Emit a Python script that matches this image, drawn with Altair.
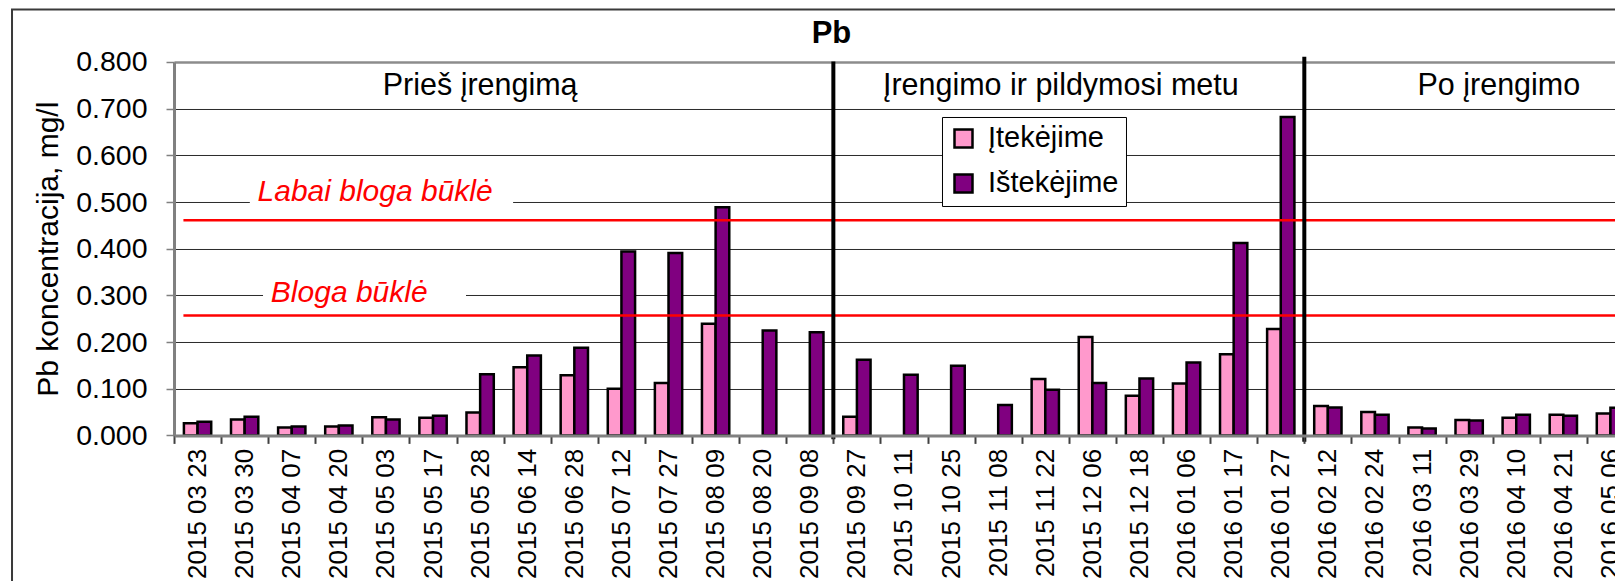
import altair as alt
import pandas as pd

# ---------------- data ----------------
dates = [
    "2015 03 23", "2015 03 30", "2015 04 07", "2015 04 20", "2015 05 03",
    "2015 05 17", "2015 05 28", "2015 06 14", "2015 06 28", "2015 07 12",
    "2015 07 27", "2015 08 09", "2015 08 20", "2015 09 08", "2015 09 27",
    "2015 10 11", "2015 10 25", "2015 11 08", "2015 11 22", "2015 12 06",
    "2015 12 18", "2016 01 06", "2016 01 17", "2016 01 27", "2016 02 12",
    "2016 02 24", "2016 03 11", "2016 03 29", "2016 04 10", "2016 04 21",
    "2016 05 06",
]
inflow = [
    0.026, 0.034, 0.017, 0.019, 0.039, 0.038, 0.049, 0.146, 0.129, 0.100,
    0.112, 0.239, None, None, 0.040, None, None, None, 0.121, 0.211,
    0.085, 0.111, 0.174, 0.228, 0.063, 0.050, 0.017, 0.033, 0.038, 0.044,
    0.047,
]
outflow = [
    0.029, 0.040, 0.019, 0.021, 0.034, 0.042, 0.131, 0.171, 0.188, 0.394,
    0.391, 0.489, 0.225, 0.221, 0.162, 0.130, 0.149, 0.065, 0.098, 0.112,
    0.122, 0.156, 0.412, 0.682, 0.060, 0.044, 0.015, 0.032, 0.044, 0.042,
    0.059,
]
series_names = ["Įtekėjime", "Ištekėjime"]
series_colors = ["#FF99CC", "#800080"]
threshold_values = [0.461, 0.257]
threshold_labels = ["Labai bloga būklė", "Bloga būklė"]
period_labels = ["Prieš įrengimą", "Įrengimo ir pildymosi metu", "Po įrengimo"]
period_breaks = ["2015 09 27", "2016 02 12"]
y_ticks = [0.0, 0.1, 0.2, 0.3, 0.4, 0.5, 0.6, 0.7, 0.8]
chart_title = "Pb"
y_title = "Pb koncentracija, mg/l"

# ---------------- layout / style ----------------
FONT = "Liberation Sans"
FS_YLAB = 28.5
FS_XLAB = 26
FS_TEXT = 30.5
FS_LEG = 29
RANGE_W = 1460      # full category range (the last band runs past the page edge)
W = 1441            # visible plot width
H = 373.4

rows = []
for d, a, b in zip(dates, inflow, outflow):
    rows.append({"date": d, "series": series_names[0], "value": a})
    rows.append({"date": d, "series": series_names[1], "value": b})
bars_df = pd.DataFrame(rows).dropna()

xscale = alt.Scale(domain=dates, paddingInner=0, paddingOuter=0, range=[0, RANGE_W])
yscale = alt.Scale(domain=[0, 0.8], nice=False)

x_axis = alt.Axis(
    title=None, labelAngle=270, labelAlign="right", labelBaseline="middle",
    labelPadding=5, tickBand="extent", tickSize=8, tickColor="#404040",
    tickWidth=2, domainColor="#808080", domainWidth=3, labelFontSize=FS_XLAB,
    labelFont=FONT, labelColor="black", labelOverlap=False, labelBound=False,
    labelFlush=False, grid=False,
)

y_axis = alt.Axis(
    title=y_title, values=y_ticks, format=".3f", labelFontSize=FS_YLAB,
    labelFont=FONT, labelColor="black", labelPadding=19, tickSize=8,
    tickColor="#808080", tickWidth=1.5, domainColor="#808080",
    domainWidth=3, grid=True,
    gridColor=alt.condition("datum.value >= 0.8", alt.value("#8c8c8c"), alt.value("#2a2a2a")),
    gridWidth=alt.condition("datum.value >= 0.8", alt.value(2.5), alt.value(1)),
    titleFont=FONT, titleFontSize=30, titleFontWeight="normal",
    titleColor="black", titleAngle=270, titleX=-117, titleY=H / 2,
    titleAlign="center", titleBaseline="alphabetic",
)


def xpos(field, bp):
    return alt.X(field, type="nominal", scale=xscale, bandPosition=bp, axis=x_axis)


def ypos(field):
    return alt.Y(field, type="quantitative", scale=yscale, axis=y_axis)


# outer chart frame (decoration)
frame = alt.Chart(pd.DataFrame({"k": [0]})).mark_rect(
    filled=False, stroke="#3a3a3a", strokeWidth=2
).encode(
    x=alt.value(-162), x2=alt.value(W + 100),
    y=alt.value(-52.5), y2=alt.value(H + 250),
)


def white_box(d0, bp0, d1, bp1, y0, y1):
    df = pd.DataFrame({"date": [d0], "date_end": [d1], "value": [y0], "value_end": [y1]})
    return alt.Chart(df).mark_rect(color="white").encode(
        x=xpos("date", bp0),
        x2=alt.X2("date_end", bandPosition=bp1),
        y=ypos("value"),
        y2="value_end",
    )


box1 = white_box("2015 03 30", 0.61, "2015 06 14", 0.2, 0.49, 0.56)
box2 = white_box("2015 03 30", 0.89, "2015 05 28", 0.2, 0.278, 0.345)

bars = alt.Chart(bars_df).mark_bar(stroke="black", strokeWidth=2.5).encode(
    x=xpos("date", 0.5),
    xOffset=alt.XOffset(
        "series:N", sort=series_names,
        scale=alt.Scale(domain=series_names, paddingInner=0, paddingOuter=0.725),
    ),
    y=ypos("value"),
    color=alt.Color(
        "series:N", sort=series_names,
        scale=alt.Scale(domain=series_names, range=series_colors),
        legend=alt.Legend(
            title=None, orient="none", legendX=768, legendY=55,
            symbolType="square", symbolSize=324, symbolStrokeColor="black",
            symbolStrokeWidth=2.5, symbolOpacity=1, labelFontSize=FS_LEG,
            labelFont=FONT, labelColor="black", labelOffset=10, rowPadding=15,
            padding=7, strokeColor="black", fillColor="white",
        ),
    ),
)

thr_df = pd.DataFrame({"value": threshold_values, "date": dates[0], "date_end": dates[-1]})
thr = alt.Chart(thr_df).mark_rule(color="#FF0000", strokeWidth=2.5).encode(
    x=xpos("date", 0.2),
    x2=alt.X2("date_end", bandPosition=1),
    y=ypos("value"),
)


def text_layer(label, d, bp, yv, size, **kw):
    df = pd.DataFrame({"label": [label], "date": [d], "value": [yv]})
    return alt.Chart(df).mark_text(
        font=FONT, fontSize=size, baseline="alphabetic", align="center", **kw
    ).encode(
        x=xpos("date", bp),
        y=ypos("value"),
        text="label:N",
    )


t_title = text_layer(chart_title, "2015 09 08", 0.96, 0.8407, 31,
                     color="black", fontWeight="bold")
t_thr1 = text_layer(threshold_labels[0], "2015 05 03", 0.27, 0.503, 30,
                    color="#FF0000", fontStyle="italic")
t_thr2 = text_layer(threshold_labels[1], "2015 04 20", 0.72, 0.285, 30,
                    color="#FF0000", fontStyle="italic")

t_p1 = text_layer(period_labels[0], "2015 05 28", 0.5, 0.730, FS_TEXT, color="black")
t_p2 = text_layer(period_labels[1], "2015 11 22", 0.83, 0.730, FS_TEXT, color="black")
t_p3 = text_layer(period_labels[2], "2016 04 10", 0.13, 0.730, FS_TEXT, color="black")

div_df = pd.DataFrame({"date": period_breaks, "value": [0.801, 0.811],
                       "value_end": [-0.008, -0.0135]})
div = alt.Chart(div_df).mark_rule(color="black", strokeWidth=4).encode(
    x=xpos("date", 0),
    y=ypos("value"),
    y2="value_end",
)

chart = alt.layer(
    frame, box1, box2, bars, thr, t_thr1, t_thr2, div, t_p1, t_p2, t_p3, t_title
).properties(
    width=W,
    height=H,
    padding={"left": 166, "top": 54, "right": 0, "bottom": 160},
    autosize=alt.AutoSizeParams(type="none"),
).configure_view(
    strokeWidth=0
).configure(
    background="white"
)

chart.save("out.html", embed_options={"renderer": "svg", "actions": False})
